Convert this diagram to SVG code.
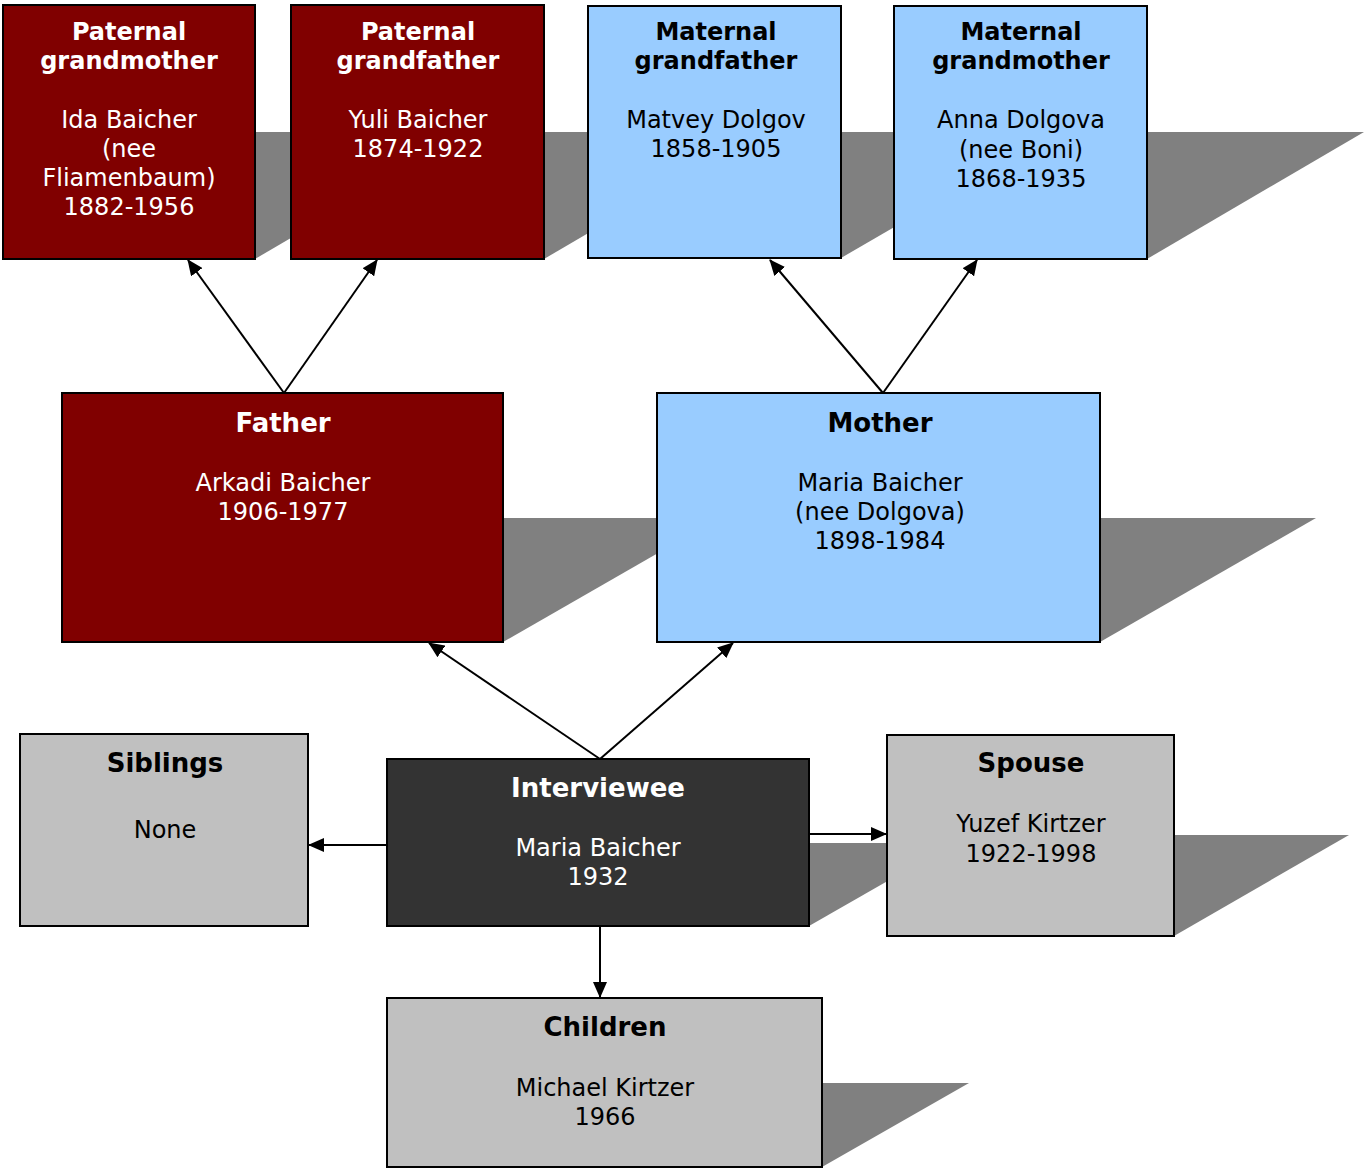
<svg xmlns="http://www.w3.org/2000/svg" width="1364" height="1169" viewBox="0 0 1364 1169">
<defs>
<style>
.sh{fill:#808080}
.box{stroke:#000;stroke-width:2}
.red{fill:#800000}
.blue{fill:#99ccff}
.grey{fill:#c0c0c0}
.dark{fill:#333333}
text{font-family:"DejaVu Sans",Verdana,sans-serif;text-anchor:middle;font-size:24px}
.t{font-weight:bold}
.big{font-size:26px}
.w{fill:#fff}
.k{fill:#000}
.conn line{stroke:#000;stroke-width:2;fill:none;marker-end:url(#ah)}
</style>
<marker id="ah" markerUnits="userSpaceOnUse" markerWidth="16" markerHeight="14" viewBox="0 0 16 14" refX="15" refY="7" orient="auto">
<path d="M0,0 L16,7 L0,14 Z" fill="#000"/>
</marker>
</defs>
<rect width="1364" height="1169" fill="#fff"/>

<g id="pgm">
<polygon class="sh" points="3,259 255,259 472,132 220,132"/>
<rect class="box red" x="3" y="5" width="252" height="254"/>
<text class="w"><tspan class="t" x="129" y="40">Paternal</tspan><tspan class="t" x="129" y="69">grandmother</tspan><tspan x="129" y="128">Ida Baicher</tspan><tspan x="129" y="157">(nee</tspan><tspan x="129" y="186">Fliamenbaum)</tspan><tspan x="129" y="215">1882-1956</tspan></text>
</g>

<g id="pgf">
<polygon class="sh" points="291,259 544,259 761,132 508,132"/>
<rect class="box red" x="291" y="5" width="253" height="254"/>
<text class="w"><tspan class="t" x="418" y="40">Paternal</tspan><tspan class="t" x="418" y="69">grandfather</tspan><tspan x="418" y="128">Yuli Baicher</tspan><tspan x="418" y="157">1874-1922</tspan></text>
</g>

<g id="mgf">
<polygon class="sh" points="588,258 841,258 1058,132 805,132"/>
<rect class="box blue" x="588" y="6" width="253" height="252"/>
<text class="k"><tspan class="t" x="716" y="40">Maternal</tspan><tspan class="t" x="716" y="69">grandfather</tspan><tspan x="716" y="128">Matvey Dolgov</tspan><tspan x="716" y="157">1858-1905</tspan></text>
</g>

<g id="mgm">
<polygon class="sh" points="894,259 1147,259 1364,132 1111,132"/>
<rect class="box blue" x="894" y="6" width="253" height="253"/>
<text class="k"><tspan class="t" x="1021" y="40">Maternal</tspan><tspan class="t" x="1021" y="69">grandmother</tspan><tspan x="1021" y="128">Anna Dolgova</tspan><tspan x="1021" y="158">(nee Boni)</tspan><tspan x="1021" y="187">1868-1935</tspan></text>
</g>

<g id="father">
<polygon class="sh" points="62,642 503,642 719,518 278,518"/>
<rect class="box red" x="62" y="393" width="441" height="249"/>
<text class="w"><tspan class="t big" x="283" y="432">Father</tspan><tspan x="283" y="491">Arkadi Baicher</tspan><tspan x="283" y="520">1906-1977</tspan></text>
</g>

<g id="mother">
<polygon class="sh" points="657,642 1100,642 1316,518 873,518"/>
<rect class="box blue" x="657" y="393" width="443" height="249"/>
<text class="k"><tspan class="t big" x="880" y="432">Mother</tspan><tspan x="880" y="491">Maria Baicher</tspan><tspan x="880" y="520">(nee Dolgova)</tspan><tspan x="880" y="549">1898-1984</tspan></text>
</g>

<g id="siblings">
<rect class="box grey" x="20" y="734" width="288" height="192"/>
<text class="k"><tspan class="t big" x="165" y="772">Siblings</tspan><tspan x="165" y="838">None</tspan></text>
</g>

<g id="interviewee">
<polygon class="sh" points="387,926 809,926 954,843 532,843"/>
<rect class="box dark" x="387" y="759" width="422" height="167"/>
<text class="w"><tspan class="t big" x="598" y="797">Interviewee</tspan><tspan x="598" y="856">Maria Baicher</tspan><tspan x="598" y="885">1932</tspan></text>
</g>

<g id="spouse">
<polygon class="sh" points="887,936 1174,936 1349,835 1062,835"/>
<rect class="box grey" x="887" y="735" width="287" height="201"/>
<text class="k"><tspan class="t big" x="1031" y="772">Spouse</tspan><tspan x="1031" y="832">Yuzef Kirtzer</tspan><tspan x="1031" y="862">1922-1998</tspan></text>
</g>

<g id="children">
<polygon class="sh" points="387,1167 822,1167 969,1083 534,1083"/>
<rect class="box grey" x="387" y="998" width="435" height="169"/>
<text class="k"><tspan class="t big" x="605" y="1036">Children</tspan><tspan x="605" y="1096">Michael Kirtzer</tspan><tspan x="605" y="1125">1966</tspan></text>
</g>

<g id="connectors" class="conn">
<line x1="284" y1="393" x2="188" y2="260"/>
<line x1="284" y1="393" x2="377" y2="260"/>
<line x1="883" y1="393" x2="770" y2="260"/>
<line x1="883" y1="393" x2="977" y2="260"/>
<line x1="600" y1="759" x2="429" y2="643"/>
<line x1="600" y1="759" x2="733" y2="643"/>
<line x1="387" y1="845" x2="309" y2="845"/>
<line x1="809" y1="834" x2="886" y2="834"/>
<line x1="600" y1="926" x2="600" y2="997"/>
</g>
</svg>
